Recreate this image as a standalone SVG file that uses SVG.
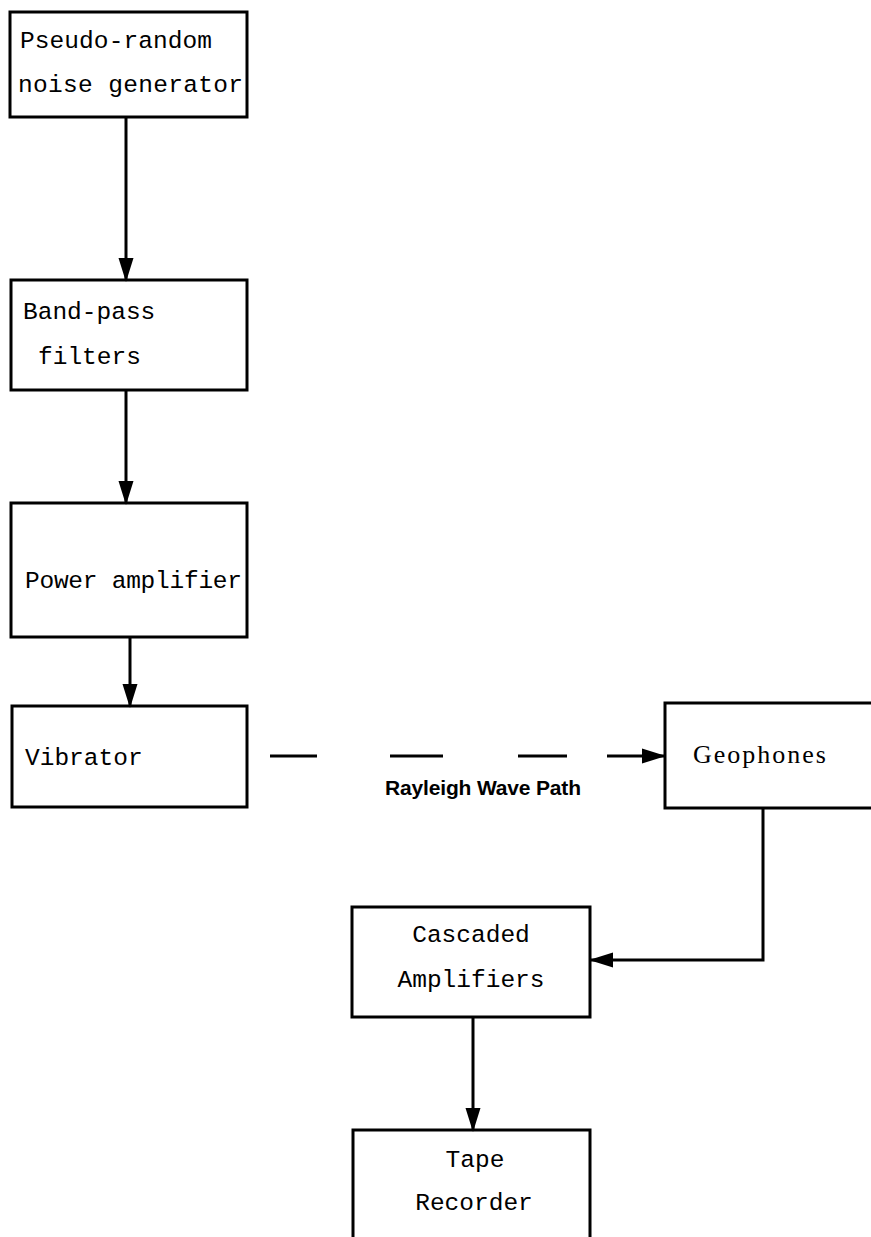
<svg xmlns="http://www.w3.org/2000/svg" width="871" height="1237" viewBox="0 0 871 1237">
<style>
.box{fill:#fff;stroke:#000;stroke-width:3}
.t{font-family:"Liberation Mono","DejaVu Sans Mono",monospace;font-size:24.5px;fill:#000}
.c{stroke:#000;stroke-width:3;fill:none}
.lbl{font-family:"Liberation Sans",Arial,sans-serif;font-size:21px;font-weight:bold;fill:#000}
.geo{font-family:"Liberation Serif","Times New Roman",serif;font-size:26px;letter-spacing:2px;fill:#000}
</style>
<defs>
<marker id="ah" markerUnits="userSpaceOnUse" markerWidth="24" markerHeight="18" viewBox="0 0 24 18" refX="23" refY="9" orient="auto">
<path d="M0,1.5 L24,9 L0,16.5 Z" fill="#000"/>
</marker>
</defs>
<rect width="871" height="1237" fill="#fff"/>
<g id="n1"><rect class="box" x="10" y="12" width="237" height="105"/><text class="t" x="20" y="48" textLength="192">Pseudo-random</text><text class="t" x="18" y="92" textLength="225">noise generator</text></g>
<g id="n2"><rect class="box" x="11" y="280" width="236" height="110"/><text class="t" x="23" y="319">Band-pass</text><text class="t" x="38" y="364">filters</text></g>
<g id="n3"><rect class="box" x="11" y="503" width="236" height="134"/><text class="t" x="25" y="588" textLength="217">Power amplifier</text></g>
<g id="n4"><rect class="box" x="12" y="706" width="235" height="101"/><text class="t" x="25" y="765">Vibrator</text></g>
<g id="n5"><rect class="box" x="665" y="703" width="210" height="105"/><text class="geo" x="693" y="763">Geophones</text></g>
<g id="n6"><rect class="box" x="352" y="907" width="238" height="110"/><text class="t" x="471" y="942" text-anchor="middle">Cascaded</text><text class="t" x="471" y="987" text-anchor="middle">Amplifiers</text></g>
<g id="n7"><rect class="box" x="353" y="1130" width="237" height="120"/><text class="t" x="475" y="1167" text-anchor="middle">Tape</text><text class="t" x="474" y="1210" text-anchor="middle">Recorder</text></g>
<g id="connectors">
<line class="c" x1="126" y1="117" x2="126" y2="281" marker-end="url(#ah)"/>
<line class="c" x1="126" y1="390" x2="126" y2="504" marker-end="url(#ah)"/>
<line class="c" x1="130" y1="637" x2="130" y2="707" marker-end="url(#ah)"/>
<line class="c" x1="270" y1="756" x2="317" y2="756"/>
<line class="c" x1="390" y1="756" x2="443" y2="756"/>
<line class="c" x1="518" y1="756" x2="567" y2="756"/>
<line class="c" x1="607" y1="756" x2="665" y2="756" marker-end="url(#ah)"/>
<text class="lbl" x="385" y="795" textLength="196">Rayleigh Wave Path</text>
<polyline class="c" points="763,808 763,960 590,960" marker-end="url(#ah)"/>
<line class="c" x1="473" y1="1017" x2="473" y2="1131" marker-end="url(#ah)"/>
</g>
</svg>
